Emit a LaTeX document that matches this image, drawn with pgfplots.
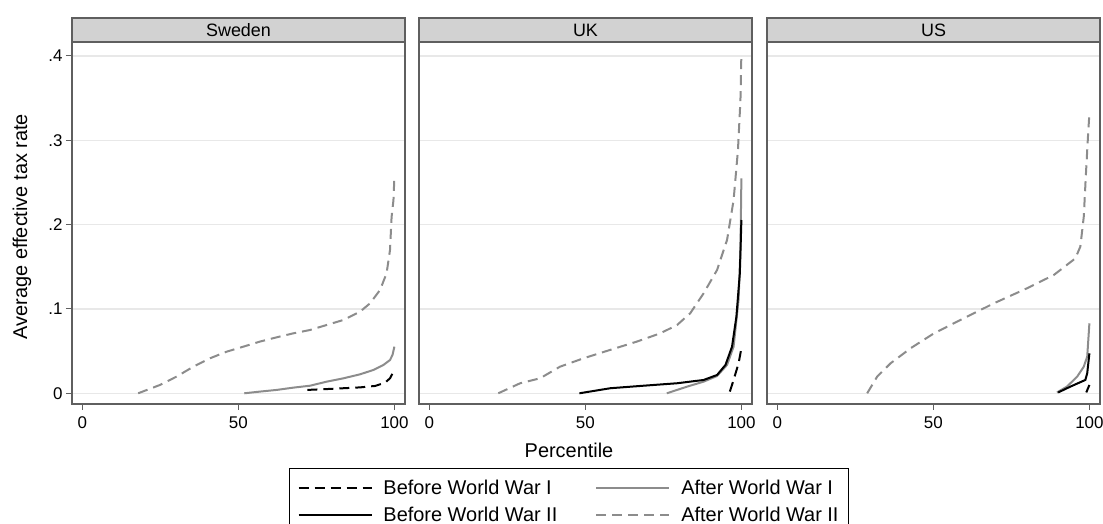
\documentclass[border=0pt]{standalone}
\usepackage{fontspec}
\setmainfont{Liberation Sans}
\usepackage{pgfplots}
\pgfplotsset{compat=1.18}
\definecolor{lgray}{RGB}{140,140,140}
\definecolor{framec}{RGB}{95,95,95}
\definecolor{stripc}{RGB}{210,210,210}
\definecolor{gridc}{RGB}{232,232,232}

\pgfplotsset{
  panel/.style={
    scale only axis, width=333bp, height=362bp,
    xmin=-3.3, xmax=103.4, ymin=-0.0127, ymax=0.4166,
    xtick={0,50,100}, xticklabels={0,50,100},
    ytick={0,0.1,0.2,0.3,0.4},
    xtick pos=bottom, ytick pos=left, tick align=outside,
    major tick length=6bp,
    tick style={framec, line width=1bp},
    axis line style={framec, line width=1.3bp},
    ymajorgrids, major grid style={gridc, line width=1.5bp},
    ticklabel style={font=\fontsize{17}{20}\selectfont},
    xticklabel style={yshift=-3bp},
    legend image code/.code={\draw[##1] (0bp,0bp) -- (73bp,0bp);},
  },
  strip/.style={
    extra description/.code={
      \draw[fill=stripc, draw=framec, line width=1.3bp]
        (axis description cs:0,1) rectangle ([yshift=24bp]axis description cs:1,1);
      \node[font=\fontsize{18}{21}\selectfont, anchor=center]
        at ([yshift=12bp]axis description cs:0.5,1) {#1};
    },
  },
  bw1/.style={black, line width=2bp, dash pattern=on 10bp off 6bp},
  aw1/.style={lgray, line width=2bp},
  bw2/.style={black, line width=2bp},
  aw2/.style={lgray, line width=2bp, dash pattern=on 10bp off 6bp},
}

\begin{document}
\begin{tikzpicture}

% Sweden
\begin{axis}[panel, at={(72bp,120bp)}, anchor=south west,
  strip={Sweden},
  yticklabels={0,.1,.2,.3,.4},
  ylabel={Average effective tax rate},
  ylabel style={at={(axis description cs:-0.150,0.49)}, anchor=center,
    font=\fontsize{20}{23}\selectfont},
]
\addplot[bw1] coordinates {
  (72.1,0.004) (78.3,0.005) (83.7,0.006) (89.0,0.007) (93.8,0.0087)
  (97.0,0.0126) (98.6,0.0178) (100,0.0277)
};
\addplot[aw1] coordinates {
  (51.9,0) (56.9,0.002) (62.3,0.004) (67.6,0.0067) (73.0,0.009)
  (78.3,0.0138) (83.7,0.0178) (89.0,0.0225) (93.3,0.0277) (96.5,0.0336)
  (98.6,0.0395) (99.4,0.0455) (100,0.0553)
};
\addplot[aw2] coordinates {
  (17.9,0) (24.9,0.0099) (30.2,0.0198) (35.6,0.0316) (40.9,0.0415)
  (46.3,0.0494) (51.6,0.0553) (56.9,0.0613) (62.3,0.0664) (67.6,0.0711)
  (73.0,0.0751) (78.3,0.081) (83.7,0.087) (89.0,0.0968) (92.2,0.1067)
  (95.4,0.1225) (97.5,0.1423) (98.6,0.170) (99.1,0.209) (99.7,0.229)
  (100,0.2565)
};
\end{axis}

% UK
\begin{axis}[panel, at={(419bp,120bp)}, anchor=south west,
  strip={UK},
  yticklabels={}, ytick style={draw=none},
  xlabel={Percentile},
  xlabel style={at={(axis description cs:0.4505,-0.127)}, anchor=center,
    font=\fontsize{20}{23}\selectfont},
  legend columns=2,
  legend style={at={(axis description cs:-0.3904,-0.1768)}, anchor=north west,
    draw=black, line width=1bp, font=\fontsize{20}{23}\selectfont,
    inner xsep=8bp, inner ysep=10bp, cells={anchor=west}, row sep=7bp,
    /tikz/every odd column/.append style={column sep=9bp},
    /tikz/every even column/.append style={column sep=36bp}},
]
\addplot[bw1] coordinates {
  (96.3,0.002) (97.5,0.0158) (99.1,0.0356) (100,0.0534)
};
\addlegendentry{Before World War I}
\addplot[aw1] coordinates {
  (76.1,0) (82.6,0.0079) (87.9,0.0138) (92.2,0.0205) (95.4,0.0336)
  (97.5,0.0553) (99.1,0.111) (99.7,0.17) (100,0.255)
};
\addlegendentry{After World War I}
\addplot[bw2] coordinates {
  (48.1,0) (58.0,0.006) (68.7,0.009) (79.4,0.0119) (87.9,0.0158)
  (92.2,0.0217) (94.9,0.0336) (97.0,0.0553) (98.4,0.0909) (99.5,0.1423)
  (100,0.2055)
};
\addlegendentry{Before World War II}
\addplot[aw2] coordinates {
  (22.1,0) (29.1,0.0119) (35.5,0.0178) (41.9,0.0316) (49.4,0.0415)
  (57.9,0.0514) (66.5,0.0613) (74.0,0.0711) (79.4,0.081) (83.6,0.0949)
  (87.9,0.1186) (92.2,0.1462) (95.4,0.1818) (97.5,0.229) (98.9,0.2885)
  (99.7,0.348) (100,0.403)
};
\addlegendentry{After World War II}
\end{axis}

% US
\begin{axis}[panel, at={(767bp,120bp)}, anchor=south west,
  strip={US},
  yticklabels={}, ytick style={draw=none},
]
\addplot[bw1] coordinates {
  (99.0,0.001) (100,0.0099)
};
\addplot[aw1] coordinates {
  (89.6,0.001) (92.8,0.0079) (96.1,0.0198) (98.2,0.0316) (99.3,0.0435)
  (100,0.083)
};
\addplot[bw2] coordinates {
  (90.0,0.001) (93.9,0.0079) (98.7,0.0158) (99.3,0.0237) (100,0.0474)
};
\addplot[aw2] coordinates {
  (28.8,0) (32.0,0.0198) (36.3,0.0356) (42.7,0.0534) (50.2,0.0711)
  (58.7,0.087) (69.4,0.1067) (80.0,0.1245) (88.6,0.1403) (95.5,0.160)
  (97.1,0.174) (98.2,0.2095) (98.9,0.261) (99.6,0.308) (100,0.332)
};
\end{axis}

\pgfresetboundingbox
\useasboundingbox (0,0) rectangle (1103bp,524bp);
\end{tikzpicture}
\end{document}
